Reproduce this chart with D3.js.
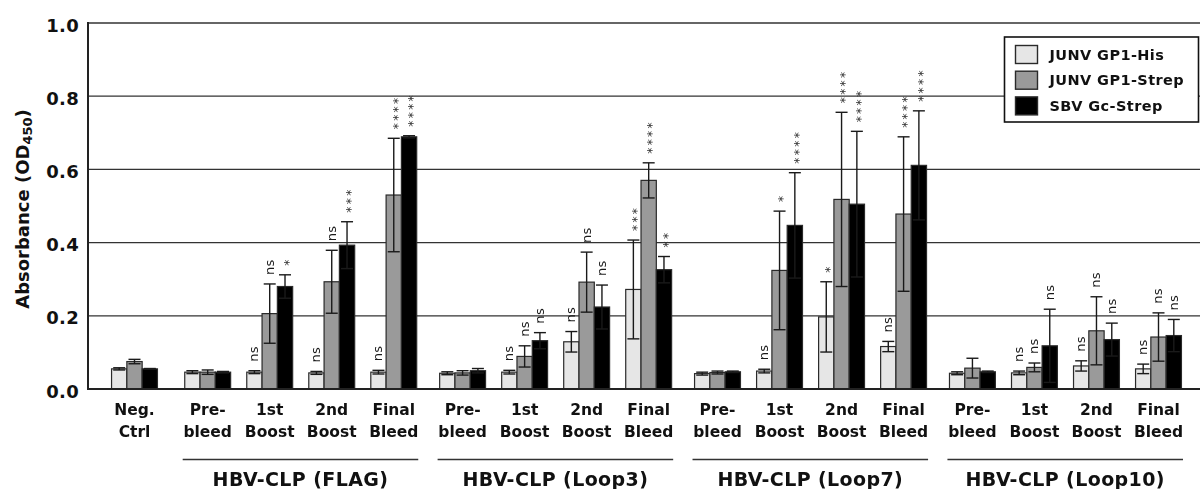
<!DOCTYPE html>
<html>
<head>
<meta charset="utf-8">
<script src="https://cdn.jsdelivr.net/npm/d3@7"></script>
<style>
  html, body { margin: 0; padding: 0; background: #fff; }
  svg { display: block; font-family: "DejaVu Sans", Verdana, sans-serif; }
</style>
</head>
<body>
<svg id="chart" width="1200" height="489"></svg>
<script>
// Sample time points (two-line labels) and the immunogen group each belongs to
const categoryLines = [
  ["Neg.", "Ctrl"],
  ["Pre-", "bleed"], ["1st", "Boost"], ["2nd", "Boost"], ["Final", "Bleed"],
  ["Pre-", "bleed"], ["1st", "Boost"], ["2nd", "Boost"], ["Final", "Bleed"],
  ["Pre-", "bleed"], ["1st", "Boost"], ["2nd", "Boost"], ["Final", "Bleed"],
  ["Pre-", "bleed"], ["1st", "Boost"], ["2nd", "Boost"], ["Final", "Bleed"]
];
const groupIndex = [0, 1, 1, 1, 1, 2, 2, 2, 2, 3, 3, 3, 3, 4, 4, 4, 4];
const groupNames = ["", "HBV-CLP (FLAG)", "HBV-CLP (Loop3)", "HBV-CLP (Loop7)", "HBV-CLP (Loop10)"];

// Antigens coated on the plate
const seriesNames = ["JUNV GP1-His", "JUNV GP1-Strep", "SBV Gc-Strep"];
const seriesColors = ["#e6e6e6", "#9a9a9a", "#000000"];

// Mean absorbance (OD450) per time point
const hisMean   = [0.055, 0.046, 0.046, 0.044, 0.046, 0.043, 0.046, 0.129, 0.272, 0.042, 0.049, 0.197, 0.116, 0.043, 0.044, 0.063, 0.055];
const strepMean = [0.075, 0.046, 0.206, 0.293, 0.530, 0.044, 0.089, 0.292, 0.570, 0.045, 0.324, 0.518, 0.478, 0.057, 0.059, 0.159, 0.142];
const sbvMean   = [0.055, 0.046, 0.280, 0.393, 0.689, 0.050, 0.132, 0.224, 0.326, 0.047, 0.447, 0.505, 0.611, 0.047, 0.118, 0.135, 0.146];

// Standard deviations
const hisSD   = [0.003, 0.004, 0.004, 0.004, 0.005, 0.004, 0.005, 0.028, 0.135, 0.004, 0.005, 0.096, 0.014, 0.004, 0.005, 0.014, 0.013];
const strepSD = [0.006, 0.006, 0.081, 0.086, 0.155, 0.006, 0.029, 0.082, 0.048, 0.004, 0.162, 0.238, 0.211, 0.027, 0.012, 0.093, 0.066];
const sbvSD   = [0.001, 0.002, 0.032, 0.064, 0.003, 0.006, 0.022, 0.060, 0.036, 0.002, 0.144, 0.199, 0.149, 0.002, 0.100, 0.045, 0.044];

// Significance versus pre-bleed
const hisSig   = [null, null, "ns", "ns", "ns",   null, "ns", "ns", "***",  null, "ns",   "*",    "ns",   null, "ns", "ns", "ns"];
const strepSig = [null, null, "ns", "ns", "****", null, "ns", "ns", "****", null, "*",    "****", "****", null, "ns", "ns", "ns"];
const sbvSig   = [null, null, "*",  "***", "****", null, "ns", "ns", "**",  null, "****", "****", "****", null, "ns", "ns", "ns"];

const yTicks = [0.0, 0.2, 0.4, 0.6, 0.8, 1.0];

// ---- layout ----
const svg = d3.select("#chart");
const plotLeft = 88, plotRight = 1200, plotTop = 23, plotBottom = 389;
const negGap = 0.18, groupGap = 0.11;
const slot = categoryLines.map((_, i) => {
  const g = groupIndex[i];
  return i + (g > 0 ? negGap : 0) + Math.max(0, g - 1) * groupGap;
});

const x = d3.scaleLinear().domain([0, slot[slot.length - 1]]).range([134.5, 1158.5]);
const y = d3.scaleLinear().domain([0, 1]).range([plotBottom, plotTop]);
const barW = 15.3;

const series = [
  { name: seriesNames[0], color: seriesColors[0], mean: hisMean,   sd: hisSD,   sig: hisSig },
  { name: seriesNames[1], color: seriesColors[1], mean: strepMean, sd: strepSD, sig: strepSig },
  { name: seriesNames[2], color: seriesColors[2], mean: sbvMean,   sd: sbvSD,   sig: sbvSig }
];

// horizontal grid lines
svg.append("g").selectAll("line")
  .data(yTicks.filter(t => t > 0))
  .join("line")
  .attr("x1", plotLeft).attr("x2", plotRight)
  .attr("y1", d => y(d)).attr("y2", d => y(d))
  .attr("stroke", d => d === 1 ? "#666" : "#333")
  .attr("stroke-width", d => d === 1 ? 2 : 1.3);

// y axis tick labels
const yAxis = d3.axisLeft(y).tickValues(yTicks).tickFormat(d3.format(".1f"))
  .tickSize(0).tickPadding(9);
const yg = svg.append("g").attr("transform", `translate(${plotLeft},0)`).call(yAxis);
yg.select(".domain").remove();
yg.selectAll("text")
  .attr("font-family", "DejaVu Sans, Verdana, sans-serif")
  .attr("font-size", 18).attr("font-weight", "bold").attr("fill", "#111")
  .attr("letter-spacing", 0.3)
  .attr("dy", "0.45em");

// y axis title
const yt = svg.append("text")
  .attr("transform", `translate(22,209) rotate(-90)`)
  .attr("text-anchor", "middle")
  .attr("dominant-baseline", "central")
  .attr("font-size", 18).attr("font-weight", "bold").attr("fill", "#111");
yt.append("tspan").text("Absorbance (OD");
yt.append("tspan").attr("font-size", 13).attr("dy", 5).text("450");
yt.append("tspan").attr("dy", -5).text(")");

// bars
const barsG = svg.append("g");
series.forEach((s, si) => {
  const off = (si - 1) * barW;
  barsG.append("g").selectAll("rect")
    .data(s.mean)
    .join("rect")
    .attr("x", (d, i) => x(slot[i]) + off - barW / 2)
    .attr("y", d => y(d))
    .attr("width", barW)
    .attr("height", d => y(0) - y(d))
    .attr("fill", s.color)
    .attr("stroke", "#2a2a2a")
    .attr("stroke-width", 1.2);
});

// error bars
const capW = 12;
series.forEach((s, si) => {
  const off = (si - 1) * barW;
  const g = barsG.append("g").attr("stroke", "#1a1a1a").attr("stroke-width", 1.4).attr("fill", "none");
  s.mean.forEach((m, i) => {
    const cx = x(slot[i]) + off;
    const hi = y(m + s.sd[i]), lo = y(Math.max(0, m - s.sd[i]));
    g.append("line").attr("x1", cx).attr("x2", cx).attr("y1", hi).attr("y2", lo);
    g.append("line").attr("x1", cx - capW / 2).attr("x2", cx + capW / 2).attr("y1", hi).attr("y2", hi);
    g.append("line").attr("x1", cx - capW / 2).attr("x2", cx + capW / 2).attr("y1", lo).attr("y2", lo);
  });
});

// significance annotations, written bottom-to-top above each error bar
const sigG = svg.append("g").attr("opacity", 0.999);
series.forEach((s, si) => {
  const off = (si - 1) * barW;
  s.sig.forEach((lab, i) => {
    if (!lab) return;
    const cx = x(slot[i]) + off;
    const yTop = y(s.mean[i] + s.sd[i]) - 9;
    const isStar = lab.indexOf("*") >= 0;
    const fs = isStar ? 12.5 : 13;
    const bx = cx + (isStar ? 0.62 * fs : 0.3 * fs);
    sigG.append("text")
      .attr("transform", `translate(${bx},${yTop}) rotate(-90)`)
      .attr("text-anchor", "start")
      .attr("font-size", fs)
      .attr("letter-spacing", isStar ? 2.2 : 0.3)
      .attr("fill", isStar ? "#333" : "#1a1a1a")
      .text(lab);
  });
});

// axis lines
svg.append("line").attr("x1", plotLeft).attr("x2", plotLeft).attr("y1", plotTop - 1).attr("y2", plotBottom + 1)
  .attr("stroke", "#222").attr("stroke-width", 2);
svg.append("line").attr("x1", plotLeft - 1).attr("x2", plotRight).attr("y1", plotBottom).attr("y2", plotBottom)
  .attr("stroke", "#222").attr("stroke-width", 2);

// category labels
const catG = svg.append("g").attr("font-size", 15.5).attr("font-weight", "bold").attr("fill", "#111")
  .attr("text-anchor", "middle");
categoryLines.forEach((lines, i) => {
  const t = catG.append("text").attr("x", x(slot[i])).attr("y", 414.5);
  t.append("tspan").attr("x", x(slot[i])).text(lines[0]);
  t.append("tspan").attr("x", x(slot[i])).attr("dy", 22.3).text(lines[1]);
});

// group brackets and names
for (let g = 1; g < groupNames.length; g++) {
  const idx = d3.range(categoryLines.length).filter(i => groupIndex[i] === g);
  const x0 = x(slot[idx[0]]) - 25, x1 = x(slot[idx[idx.length - 1]]) + 24.5;
  svg.append("line").attr("x1", x0).attr("x2", x1).attr("y1", 459.5).attr("y2", 459.5)
    .attr("stroke", "#333").attr("stroke-width", 1.5);
  svg.append("text").attr("x", (x0 + x1) / 2).attr("y", 485.5)
    .attr("text-anchor", "middle").attr("font-size", 19).attr("font-weight", "bold")
    .attr("letter-spacing", 0.4).attr("fill", "#111")
    .text(groupNames[g]);
}

// legend
const lg = svg.append("g").attr("transform", "translate(1004.5,37)");
lg.append("rect").attr("width", 194).attr("height", 85)
  .attr("fill", "#fff").attr("stroke", "#111").attr("stroke-width", 1.6);
series.forEach((s, si) => {
  const row = lg.append("g").attr("transform", `translate(11,${8.5 + si * 25.7})`);
  row.append("rect").attr("width", 22).attr("height", 18)
    .attr("fill", s.color).attr("stroke", "#2a2a2a").attr("stroke-width", 1.4);
  row.append("text").attr("x", 34).attr("y", 9).attr("dominant-baseline", "central")
    .attr("font-size", 14.5).attr("font-weight", "bold").attr("letter-spacing", 0.4)
    .attr("fill", "#111").text(s.name);
});
</script>
</body>
</html>
